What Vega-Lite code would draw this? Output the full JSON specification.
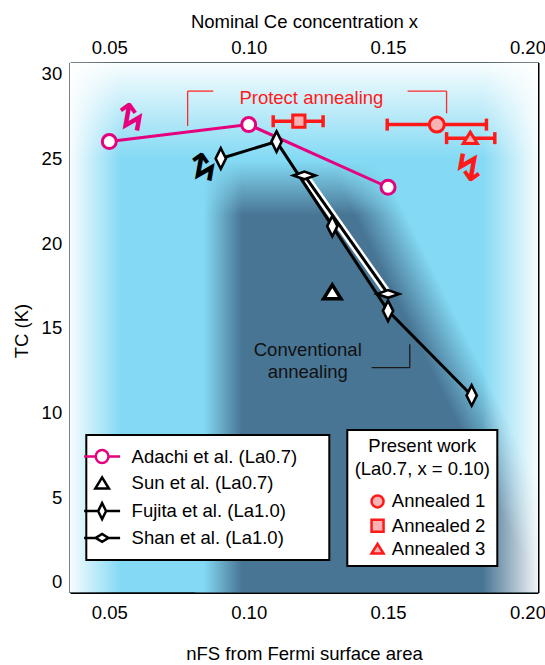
{
  "$schema": "https://vega.github.io/schema/vega-lite/v6.json",
  "width": 468,
  "height": 530,
  "autosize": {"type": "none"},
  "padding": {"left": 70, "top": 62.5, "right": 7, "bottom": 72.5},
  "background": "white",
  "config": {
    "font": "Liberation Sans",
    "view": {"stroke": null},
    "axis": {
      "grid": false,
      "domainColor": "black",
      "domainWidth": 2,
      "tickColor": "black",
      "tickWidth": 1.8,
      "labelColor": "black",
      "labelFontSize": 18.5,
      "labelFont": "Liberation Sans",
      "titleFont": "Liberation Sans",
      "titleFontSize": 18.5,
      "titleFontWeight": "normal",
      "titleColor": "black",
      "labelFlush": false,
      "labelOverlap": false,
      "zindex": 1
    },
    "legend": {"strokeWidth": 2, "zindex": 2}
  },
  "datasets": {
    "shading": [
      {"part": "base", "n": 0.0359, "n2": 0.2038, "tc": -0.64, "tc2": 30.67},
      {"part": "dark", "n": 0.0829, "n2": 0.2038, "tc": -0.64, "tc2": 24.91},
      {"part": "edgeLeft", "n": 0.0808, "n2": 0.0976, "tc": -0.64, "tc2": 25.2},
      {"part": "edgeTop", "n": 0.0808, "n2": 0.2038, "tc": 21.66, "tc2": 25.2},
      {"part": "fadeLeft", "n": 0.0359, "n2": 0.054, "tc": -0.64, "tc2": 30.67},
      {"part": "fadeTop", "n": 0.0359, "n2": 0.2038, "tc": 25, "tc2": 30.67},
      {"part": "fadeRight", "n": 0.184, "n2": 0.2038, "tc": -0.64, "tc2": 30.67}
    ],
    "brackets": [
      {"g": "protect", "n": 0.0781, "n2": 0.0781, "tc": 26.92, "tc2": 28.98},
      {"g": "protect", "n": 0.0781, "n2": 0.0873, "tc": 28.98, "tc2": 28.98},
      {"g": "protect", "n": 0.157, "n2": 0.171, "tc": 28.98, "tc2": 28.98},
      {"g": "protect", "n": 0.171, "n2": 0.171, "tc": 28.98, "tc2": 27.67},
      {"g": "conventional", "n": 0.1441, "n2": 0.1578, "tc": 12.64, "tc2": 12.64},
      {"g": "conventional", "n": 0.1578, "n2": 0.1578, "tc": 12.64, "tc2": 14.02}
    ],
    "literature": [
      {"series": "Adachi et al. (La0.7)", "n": 0.05, "tc": 26.0},
      {"series": "Adachi et al. (La0.7)", "n": 0.10, "tc": 27.0},
      {"series": "Adachi et al. (La0.7)", "n": 0.15, "tc": 23.3},
      {"series": "Sun et al. (La0.7)", "n": 0.13, "tc": 17.1},
      {"series": "Fujita et al. (La1.0)", "n": 0.09, "tc": 25.0},
      {"series": "Fujita et al. (La1.0)", "n": 0.11, "tc": 26.0},
      {"series": "Fujita et al. (La1.0)", "n": 0.13, "tc": 21.0},
      {"series": "Fujita et al. (La1.0)", "n": 0.15, "tc": 16.0},
      {"series": "Fujita et al. (La1.0)", "n": 0.18, "tc": 11.0},
      {"series": "Shan et al. (La1.0)", "n": 0.12, "tc": 24.0},
      {"series": "Shan et al. (La1.0)", "n": 0.15, "tc": 17.0}
    ],
    "present": [
      {"sample": "Annealed 1", "n": 0.1675, "lo": 0.1497, "hi": 0.1853, "tc": 27.0},
      {"sample": "Annealed 2", "n": 0.118, "lo": 0.1088, "hi": 0.1267, "tc": 27.2},
      {"sample": "Annealed 3", "n": 0.1795, "lo": 0.171, "hi": 0.1883, "tc": 26.2}
    ],
    "labels": [
      {"kind": "protect", "text": "Protect annealing", "n": 0.1225, "tc": 28.22},
      {"kind": "conventional", "text": "Conventional", "n": 0.1212, "tc": 13.33},
      {"kind": "conventional", "text": "annealing", "n": 0.1212, "tc": 12.01}
    ],
    "arrows": [
      {"who": "Adachi", "n": 0.0578, "tc": 27.6},
      {"who": "Fujita", "n": 0.0837, "tc": 24.7},
      {"who": "Present", "n": 0.179, "tc": 24.3}
    ]
  },
  "resolve": {
    "axis": {"x": "independent", "y": "independent"},
    "scale": {"shape": "independent", "stroke": "independent"},
    "legend": {"shape": "independent", "stroke": "independent"}
  },
  "layer": [
    {
      "data": {"name": "shading"},
      "encoding": {
        "x": {
          "field": "n", "type": "quantitative",
          "scale": {"domain": [0.0359, 0.2038], "nice": false, "zero": false},
          "axis": {
            "orient": "bottom",
            "values": [0.04, 0.05, 0.06, 0.07, 0.08, 0.09, 0.1, 0.11, 0.12, 0.13, 0.14, 0.15, 0.16, 0.17, 0.18, 0.19, 0.2],
            "tickSize": {"condition": {"test": "round(datum.value*100) % 5 === 0", "value": -13}, "value": -7},
            "labelExpr": "round(datum.value*100) % 5 === 0 ? format(datum.value, '.2f') : ''",
            "labelPadding": 24,
            "title": "nFS from Fermi surface area",
            "titleY": 66.8,
            "titleBaseline": "alphabetic"
          }
        },
        "x2": {"field": "n2"},
        "y": {
          "field": "tc", "type": "quantitative",
          "scale": {"domain": [-0.64, 30.67], "nice": false, "zero": false},
          "axis": {
            "orient": "left",
            "values": [0, 5, 10, 15, 20, 25, 30],
            "tickSize": -13,
            "labelPadding": 21.3,
            "title": "TC (K)",
            "titleX": -48.3,
            "titleY": 268,
            "titleAngle": -90,
            "titleAlign": "center",
            "titleBaseline": "middle"
          }
        },
        "y2": {"field": "tc2"}
      },
      "layer": [
        {"transform": [{"filter": "datum.part === 'base'"}], "mark": {"type": "rect", "fill": "#84daf4", "clip": true}},
        {"transform": [{"filter": "datum.part === 'dark'"}], "mark": {"type": "rect", "clip": true, "fill": {"gradient": "linear", "x1": 0, "y1": 1, "x2": 1, "y2": 0.367, "stops": [{"offset": 0, "color": "rgba(72,117,148,1)"}, {"offset": 0.72, "color": "rgba(72,117,148,1)"}, {"offset": 0.83, "color": "rgba(72,117,148,0)"}, {"offset": 1, "color": "rgba(72,117,148,0)"}]}}},
        {"transform": [{"filter": "datum.part === 'edgeLeft'"}], "mark": {"type": "rect", "clip": true, "fill": {"gradient": "linear", "x1": 0, "y1": 0, "x2": 1, "y2": 0, "stops": [{"offset": 0, "color": "rgba(132,218,244,1)"}, {"offset": 0.18, "color": "rgba(132,218,244,1)"}, {"offset": 1, "color": "rgba(132,218,244,0)"}]}}},
        {"transform": [{"filter": "datum.part === 'edgeTop'"}], "mark": {"type": "rect", "clip": true, "fill": {"gradient": "linear", "x1": 0, "y1": 0, "x2": 0, "y2": 1, "stops": [{"offset": 0, "color": "rgba(132,218,244,1)"}, {"offset": 0.1, "color": "rgba(132,218,244,1)"}, {"offset": 1, "color": "rgba(132,218,244,0)"}]}}},
        {"transform": [{"filter": "datum.part === 'fadeLeft'"}], "mark": {"type": "rect", "clip": true, "fill": {"gradient": "linear", "x1": 0, "y1": 0, "x2": 1, "y2": 0, "stops": [{"offset": 0, "color": "rgba(255,255,255,0.93)"}, {"offset": 1, "color": "rgba(255,255,255,0)"}]}}},
        {"transform": [{"filter": "datum.part === 'fadeTop'"}], "mark": {"type": "rect", "clip": true, "fill": {"gradient": "linear", "x1": 0, "y1": 0, "x2": 0, "y2": 1, "stops": [{"offset": 0, "color": "rgba(255,255,255,0.95)"}, {"offset": 1, "color": "rgba(255,255,255,0)"}]}}},
        {"transform": [{"filter": "datum.part === 'fadeRight'"}], "mark": {"type": "rect", "clip": true, "fill": {"gradient": "linear", "x1": 0, "y1": 0, "x2": 1, "y2": 0, "stops": [{"offset": 0, "color": "rgba(255,255,255,0)"}, {"offset": 1, "color": "rgba(255,255,255,0.92)"}]}}}
      ]
    },
    {
      "data": {"name": "brackets"},
      "encoding": {
        "x": {
          "field": "n", "type": "quantitative",
          "scale": {"domain": [0.0359, 0.2038], "nice": false, "zero": false},
          "axis": {
            "orient": "top",
            "values": [0.04, 0.05, 0.06, 0.07, 0.08, 0.09, 0.1, 0.11, 0.12, 0.13, 0.14, 0.15, 0.16, 0.17, 0.18, 0.19, 0.2],
            "tickSize": {"condition": {"test": "round(datum.value*100) % 5 === 0", "value": -13}, "value": -7},
            "labelExpr": "round(datum.value*100) % 5 === 0 ? format(datum.value, '.2f') : ''",
            "labelPadding": 18.5,
            "title": "Nominal Ce concentration x",
            "titleY": -35.4,
            "titleBaseline": "alphabetic"
          }
        },
        "x2": {"field": "n2"},
        "y": {
          "field": "tc", "type": "quantitative",
          "scale": {"domain": [-0.64, 30.67], "nice": false, "zero": false},
          "axis": {
            "orient": "right",
            "values": [0, 5, 10, 15, 20, 25, 30],
            "tickSize": -13,
            "labels": false,
            "title": null
          }
        },
        "y2": {"field": "tc2"}
      },
      "layer": [
        {"transform": [{"filter": "datum.g === 'protect'"}], "mark": {"type": "rule", "color": "#ff2a2a", "strokeWidth": 1.3}},
        {"transform": [{"filter": "datum.g === 'conventional'"}], "mark": {"type": "rule", "color": "#1a1a1a", "strokeWidth": 1.3}}
      ]
    },
    {
      "encoding": {
        "x": {"field": "n", "type": "quantitative", "scale": {"domain": [0.0359, 0.2038], "nice": false, "zero": false}, "axis": null},
        "y": {"field": "tc", "type": "quantitative", "scale": {"domain": [-0.64, 30.67], "nice": false, "zero": false}, "axis": null}
      },
      "layer": [
        {"data": {"name": "literature"}, "transform": [{"filter": "datum.series === 'Adachi et al. (La0.7)'"}], "mark": {"type": "line", "stroke": "#e5007e", "strokeWidth": 3}},
        {"data": {"name": "literature"}, "transform": [{"filter": "datum.series === 'Adachi et al. (La0.7)'"}], "mark": {"type": "point", "shape": "circle", "size": 196, "filled": true, "fill": "white", "stroke": "#e5007e", "strokeWidth": 3, "opacity": 1}},
        {"data": {"name": "literature"}, "transform": [{"filter": "datum.series === 'Shan et al. (La1.0)'"}], "mark": {"type": "line", "stroke": "white", "strokeWidth": 8}},
        {"data": {"name": "literature"}, "transform": [{"filter": "datum.series === 'Fujita et al. (La1.0)'"}], "mark": {"type": "line", "stroke": "black", "strokeWidth": 3}},
        {"data": {"name": "literature"}, "transform": [{"filter": "datum.series === 'Shan et al. (La1.0)'"}], "mark": {"type": "line", "stroke": "black", "strokeWidth": 3}},
        {"data": {"name": "literature"}, "transform": [{"filter": "datum.series === 'Fujita et al. (La1.0)'"}], "mark": {"type": "point", "shape": "M0,-1L0.5,0L0,1L-0.5,0Z", "size": 420, "filled": true, "fill": "white", "stroke": "black", "strokeWidth": 2.6, "opacity": 1}},
        {"data": {"name": "literature"}, "transform": [{"filter": "datum.series === 'Shan et al. (La1.0)'"}], "mark": {"type": "point", "shape": "M-1,0L0,-0.35L1,0L0,0.35Z", "size": 484, "filled": true, "fill": "white", "stroke": "black", "strokeWidth": 2.6, "opacity": 1}},
        {"data": {"name": "literature"}, "transform": [{"filter": "datum.series === 'Sun et al. (La0.7)'"}], "mark": {"type": "point", "shape": "M0,-0.85L1,0.75L-1,0.75Z", "size": 300, "filled": true, "fill": "white", "stroke": "black", "strokeWidth": 3.5, "strokeJoin": "miter", "opacity": 1}},
        {"data": {"name": "present"}, "mark": {"type": "rule", "color": "#ff1a1a", "strokeWidth": 3.5},
          "encoding": {"x": {"field": "lo", "type": "quantitative", "scale": {"domain": [0.0359, 0.2038], "nice": false, "zero": false}, "axis": null}, "x2": {"field": "hi"}}},
        {"data": {"name": "present"}, "mark": {"type": "tick", "orient": "vertical", "color": "#ff1a1a", "size": 12, "thickness": 3.5, "opacity": 1},
          "encoding": {"x": {"field": "lo", "type": "quantitative", "scale": {"domain": [0.0359, 0.2038], "nice": false, "zero": false}, "axis": null}}},
        {"data": {"name": "present"}, "mark": {"type": "tick", "orient": "vertical", "color": "#ff1a1a", "size": 12, "thickness": 3.5, "opacity": 1},
          "encoding": {"x": {"field": "hi", "type": "quantitative", "scale": {"domain": [0.0359, 0.2038], "nice": false, "zero": false}, "axis": null}}},
        {"data": {"name": "present"}, "transform": [{"filter": "datum.sample === 'Annealed 1'"}], "mark": {"type": "point", "shape": "circle", "size": 225, "filled": true, "fill": "#f7b3b3", "stroke": "#ff1a1a", "strokeWidth": 3, "opacity": 1}},
        {"data": {"name": "present"}, "transform": [{"filter": "datum.sample === 'Annealed 2'"}], "mark": {"type": "point", "shape": "square", "size": 150, "filled": true, "fill": "#f7b3b3", "stroke": "#ff1a1a", "strokeWidth": 3, "opacity": 1}},
        {"data": {"name": "present"}, "transform": [{"filter": "datum.sample === 'Annealed 3'"}], "mark": {"type": "point", "shape": "M0,-0.85L1,0.75L-1,0.75Z", "size": 200, "filled": true, "fill": "#f7b3b3", "stroke": "#ff1a1a", "strokeWidth": 3, "opacity": 1}},
        {"data": {"name": "labels"}, "transform": [{"filter": "datum.kind === 'protect'"}], "mark": {"type": "text", "font": "Liberation Sans", "fontSize": 18.5, "color": "#ff1a1a", "align": "center", "baseline": "alphabetic"}, "encoding": {"text": {"field": "text"}}},
        {"data": {"name": "labels"}, "transform": [{"filter": "datum.kind === 'conventional'"}], "mark": {"type": "text", "font": "Liberation Sans", "fontSize": 18.5, "color": "#111111", "align": "center", "baseline": "alphabetic"}, "encoding": {"text": {"field": "text"}}},
        {"data": {"name": "arrows"}, "transform": [{"filter": "datum.who === 'Adachi'"}], "mark": {"type": "text", "text": "↯", "font": "DejaVu Sans", "fontWeight": "bold", "fontSize": 38, "color": "#e5007e", "angle": 180, "align": "center", "baseline": "middle"}},
        {"data": {"name": "arrows"}, "transform": [{"filter": "datum.who === 'Fujita'"}], "mark": {"type": "text", "text": "↯", "font": "DejaVu Sans", "fontWeight": "bold", "fontSize": 38, "color": "black", "angle": 180, "align": "center", "baseline": "middle"}},
        {"data": {"name": "arrows"}, "transform": [{"filter": "datum.who === 'Present'"}], "mark": {"type": "text", "text": "↯", "font": "DejaVu Sans", "fontWeight": "bold", "fontSize": 38, "color": "#ff1a1a", "align": "center", "baseline": "middle"}}
      ]
    },
    {
      "data": {"name": "literature"},
      "transform": [{"filter": "false"}],
      "mark": {"type": "point", "filled": true, "fill": "white", "strokeWidth": 2.5, "size": 256, "opacity": 1},
      "encoding": {
        "shape": {
          "field": "series", "type": "nominal",
          "scale": {
            "domain": ["Adachi et al. (La0.7)", "Sun et al. (La0.7)", "Fujita et al. (La1.0)", "Shan et al. (La1.0)"],
            "range": [
              "M-2.25,0H-0.8M0.8,0H2.25M-0.8,0A0.8,0.8,0,1,0,0.8,0A0.8,0.8,0,1,0,-0.8,0",
              "M0,-0.75L0.85,0.65L-0.85,0.65Z",
              "M-2.25,0H-0.5M0.5,0H2.25M0,-1L0.5,0L0,1L-0.5,0Z",
              "M-2.25,0H-0.8M0.8,0H2.25M-0.8,0L0,-0.5L0.8,0L0,0.5Z"
            ]
          },
          "legend": {"orient": "none", "legendX": 16.3, "legendY": 372.5, "title": ".", "titleOrient": "right", "titleOpacity": 0, "titlePadding": 13.9, "titleFontSize": 18.5, "fillColor": "white", "strokeColor": "black", "padding": 12, "symbolOffset": -5.7, "labelOffset": 20, "rowPadding": 3.8, "labelFontSize": 18.5, "labelFont": "Liberation Sans", "labelColor": "black", "labelLimit": 400, "symbolStrokeWidth": 2.5, "symbolSize": 256, "symbolFillColor": "white"}
        },
        "stroke": {
          "field": "series", "type": "nominal",
          "scale": {
            "domain": ["Adachi et al. (La0.7)", "Sun et al. (La0.7)", "Fujita et al. (La1.0)", "Shan et al. (La1.0)"],
            "range": ["#e5007e", "black", "black", "black"]
          },
          "legend": {"orient": "none", "legendX": 16.3, "legendY": 372.5, "title": ".", "titleOrient": "right", "titleOpacity": 0, "titlePadding": 13.9, "titleFontSize": 18.5, "fillColor": "white", "strokeColor": "black", "padding": 12, "symbolOffset": -5.7, "labelOffset": 20, "rowPadding": 3.8, "labelFontSize": 18.5, "labelFont": "Liberation Sans", "labelColor": "black", "labelLimit": 400, "symbolStrokeWidth": 2.5, "symbolSize": 256, "symbolFillColor": "white"}
        }
      }
    },
    {
      "data": {"name": "present"},
      "transform": [{"filter": "false"}],
      "mark": {"type": "point", "filled": true, "fill": "#f7b3b3", "strokeWidth": 2.5, "size": 144, "opacity": 1},
      "encoding": {
        "shape": {
          "field": "sample", "type": "nominal",
          "scale": {"domain": ["Annealed 1", "Annealed 2", "Annealed 3"], "range": ["circle", "square", "M0,-0.85L1,0.75L-1,0.75Z"]},
          "legend": {"orient": "none", "legendX": 277.3, "legendY": 367.5, "title": ["Present work", "\u00a0\u00a0(La0.7, x = 0.10)\u00a0\u00a0"], "titleAnchor": "middle", "titleAlign": "center", "titleFont": "Liberation Sans", "titleFontSize": 18.5, "titleFontWeight": "normal", "titleColor": "black", "titleLineHeight": 23, "titlePadding": 13.7, "fillColor": "white", "strokeColor": "black", "padding": 7, "symbolOffset": 9, "labelOffset": 5, "rowPadding": 1.3, "labelFontSize": 18.5, "labelFont": "Liberation Sans", "labelColor": "black", "symbolSize": 144, "symbolStrokeWidth": 2.5, "symbolFillColor": "#f7b3b3"}
        },
        "stroke": {
          "field": "sample", "type": "nominal",
          "scale": {"domain": ["Annealed 1", "Annealed 2", "Annealed 3"], "range": ["#ff1a1a", "#ff1a1a", "#ff1a1a"]},
          "legend": {"orient": "none", "legendX": 277.3, "legendY": 367.5, "title": ["Present work", "\u00a0\u00a0(La0.7, x = 0.10)\u00a0\u00a0"], "titleAnchor": "middle", "titleAlign": "center", "titleFont": "Liberation Sans", "titleFontSize": 18.5, "titleFontWeight": "normal", "titleColor": "black", "titleLineHeight": 23, "titlePadding": 13.7, "fillColor": "white", "strokeColor": "black", "padding": 7, "symbolOffset": 9, "labelOffset": 5, "rowPadding": 1.3, "labelFontSize": 18.5, "labelFont": "Liberation Sans", "labelColor": "black", "symbolSize": 144, "symbolStrokeWidth": 2.5, "symbolFillColor": "#f7b3b3"}
        }
      }
    }
  ]
}
